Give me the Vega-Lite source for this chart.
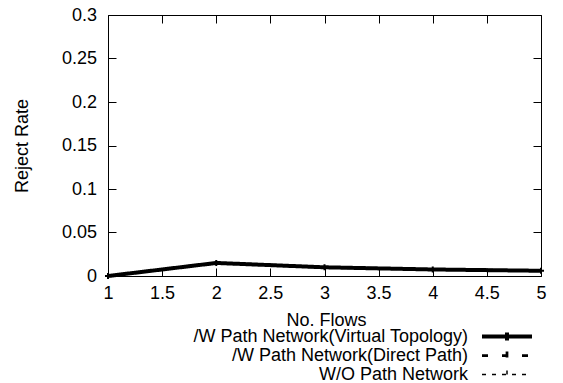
{
  "$schema": "https://vega.github.io/schema/vega-lite/v6.json",
  "width": 433,
  "height": 261,
  "autosize": {"type": "none"},
  "padding": {"left": 108, "top": 15, "right": 22, "bottom": 107},
  "config": {
    "font": "Liberation Sans",
    "view": {"stroke": "black", "strokeWidth": 1},
    "axis": {
      "grid": false, "domain": false, "ticks": true, "tickColor": "black", "tickSize": 8, "tickWidth": 1, "tickOpacity": 1,
      "offset": -8, "zindex": 1,
      "labelFont": "Liberation Sans", "labelFontSize": 18, "labelColor": "black",
      "titleFont": "Liberation Sans", "titleFontSize": 18, "titleFontWeight": "normal", "titleColor": "black",
      "labelFlush": false, "labelOverlap": false
    },
    "legend": {"symbolStrokeColor": "black"}
  },
  "data": {
    "values": [
      {"series": "/W Path Network(Virtual Topology)", "flows": 1, "rate": 0},
      {"series": "/W Path Network(Virtual Topology)", "flows": 2, "rate": 0.015},
      {"series": "/W Path Network(Virtual Topology)", "flows": 3, "rate": 0.01},
      {"series": "/W Path Network(Virtual Topology)", "flows": 4, "rate": 0.0075},
      {"series": "/W Path Network(Virtual Topology)", "flows": 5, "rate": 0.006},
      {"series": "/W Path Network(Direct Path)", "flows": 1, "rate": 0},
      {"series": "/W Path Network(Direct Path)", "flows": 2, "rate": 0.015},
      {"series": "/W Path Network(Direct Path)", "flows": 3, "rate": 0.01},
      {"series": "/W Path Network(Direct Path)", "flows": 4, "rate": 0.0075},
      {"series": "/W Path Network(Direct Path)", "flows": 5, "rate": 0.006},
      {"series": "W/O Path Network", "flows": 1, "rate": 0},
      {"series": "W/O Path Network", "flows": 2, "rate": 0.015},
      {"series": "W/O Path Network", "flows": 3, "rate": 0.01},
      {"series": "W/O Path Network", "flows": 4, "rate": 0.0075},
      {"series": "W/O Path Network", "flows": 5, "rate": 0.006}
    ]
  },
  "layer": [
    {
      "transform": [{"filter": "datum.series !== '/W Path Network(Virtual Topology)'"}],
      "mark": {"type": "line", "color": "black"},
      "encoding": {
        "x": {"field": "flows", "type": "quantitative", "scale": {"domain": [1, 5], "nice": false, "zero": false},
          "axis": {"orient": "bottom", "values": [1, 1.5, 2, 2.5, 3, 3.5, 4, 4.5, 5], "format": "~g", "labelPadding": 8.5,
            "title": "No. Flows", "titleX": 218, "titleY": 52, "titleAlign": "center", "titleBaseline": "middle"}},
        "y": {"field": "rate", "type": "quantitative", "scale": {"domain": [0, 0.3], "nice": false},
          "axis": {"orient": "left", "values": [0, 0.05, 0.1, 0.15, 0.2, 0.25, 0.3], "format": "~g", "labelPadding": 11.5,
            "title": "Reject Rate", "titleAngle": -90, "titleX": -94, "titleY": 130.5, "titleAlign": "center", "titleBaseline": "middle"}},
        "strokeDash": {"field": "series", "type": "nominal",
          "scale": {"domain": ["/W Path Network(Virtual Topology)", "/W Path Network(Direct Path)", "W/O Path Network"], "range": [[1, 0], [6, 14], [4, 6]]},
          "legend": {"title": null, "orient": "none", "legendX": 363.5, "legendY": 312.25, "direction": "vertical",
            "symbolType": "M-3.45,0H3.45M0,-0.55V0.55", "symbolSize": 210, "symbolOffset": 26, "labelAlign": "right", "labelOffset": -48.5,
            "labelFontSize": 18, "labelFont": "Liberation Sans", "labelColor": "black", "rowPadding": 0, "padding": 0, "labelLimit": 0, "clipHeight": 18.5,
            "encode": {"entries": {"update": {"width": {"value": 64}, "height": {"value": 18.5}}}}}},
        "strokeWidth": {"field": "series", "type": "nominal",
          "scale": {"domain": ["/W Path Network(Virtual Topology)", "/W Path Network(Direct Path)", "W/O Path Network"], "range": [4, 1.5, 1.5]},
          "legend": {"title": null, "orient": "none", "legendX": 363.5, "legendY": 312.25, "direction": "vertical",
            "symbolType": "M-3.45,0H3.45M0,-0.55V0.55", "symbolSize": 210, "symbolOffset": 26, "labelAlign": "right", "labelOffset": -48.5,
            "labelFontSize": 18, "labelFont": "Liberation Sans", "labelColor": "black", "rowPadding": 0, "padding": 0, "labelLimit": 0, "clipHeight": 18.5,
            "encode": {"entries": {"update": {"width": {"value": 64}, "height": {"value": 18.5}}}}}}
      }
    },
    {
      "transform": [{"filter": "datum.series === '/W Path Network(Virtual Topology)'"}],
      "mark": {"type": "line", "color": "black"},
      "encoding": {
        "x": {"field": "flows", "type": "quantitative", "axis": null},
        "y": {"field": "rate", "type": "quantitative", "axis": null},
        "strokeDash": {"field": "series", "type": "nominal",
          "scale": {"domain": ["/W Path Network(Virtual Topology)", "/W Path Network(Direct Path)", "W/O Path Network"], "range": [[1, 0], [6, 14], [4, 6]]}},
        "strokeWidth": {"field": "series", "type": "nominal",
          "scale": {"domain": ["/W Path Network(Virtual Topology)", "/W Path Network(Direct Path)", "W/O Path Network"], "range": [4, 1.5, 1.5]}}
      }
    },
    {
      "transform": [{"filter": "datum.series === '/W Path Network(Virtual Topology)'"}],
      "mark": {"type": "point", "shape": "M-1,0H1M0,-1V1", "filled": false, "size": 36, "strokeWidth": 2, "color": "black", "opacity": 1},
      "encoding": {
        "x": {"field": "flows", "type": "quantitative",
          "axis": {"orient": "top", "values": [1, 1.5, 2, 2.5, 3, 3.5, 4, 4.5, 5], "labels": false, "title": null}},
        "y": {"field": "rate", "type": "quantitative",
          "axis": {"orient": "right", "values": [0, 0.05, 0.1, 0.15, 0.2, 0.25, 0.3], "labels": false, "title": null}}
      }
    }
  ],
  "resolve": {"axis": {"x": "independent", "y": "independent"}}
}
